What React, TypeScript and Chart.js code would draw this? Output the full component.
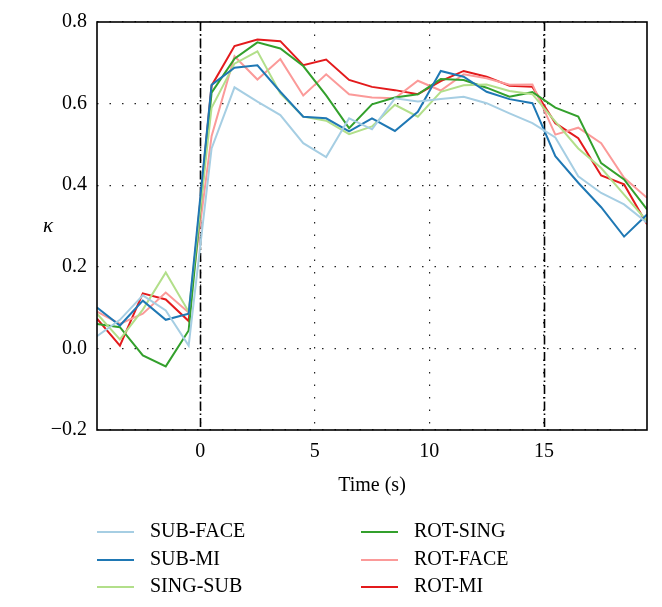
import React, { useEffect, useRef } from "react";
import { Chart, registerables } from "chart.js";

Chart.register(...registerables);

// ---- data ----
const times = [
  -4.5, -3.5, -2.5, -1.5, -0.5, 0.5, 1.5, 2.5, 3.5, 4.5, 5.5, 6.5, 7.5, 8.5,
  9.5, 10.5, 11.5, 12.5, 13.5, 14.5, 15.5, 16.5, 17.5, 18.5, 19.5,
];

const seriesNames = ["SUB-FACE", "SUB-MI", "SING-SUB", "ROT-SING", "ROT-FACE", "ROT-MI"];
const seriesColors = ["#a6cee3", "#1f78b4", "#b2df8a", "#33a02c", "#fb9a99", "#e31a1c"];

const subFace = [
  0.03, 0.07, 0.13, 0.093, 0.007, 0.49, 0.64, 0.605, 0.572, 0.503, 0.469, 0.564,
  0.537, 0.613, 0.605, 0.611, 0.617, 0.601, 0.576, 0.552, 0.517, 0.422, 0.381,
  0.353, 0.308,
];
const subMi = [
  0.1, 0.056, 0.117, 0.07, 0.085, 0.646, 0.688, 0.694, 0.629, 0.568, 0.564, 0.532,
  0.564, 0.533, 0.58, 0.68, 0.666, 0.629, 0.611, 0.601, 0.471, 0.406, 0.346,
  0.274, 0.328,
];
const singSub = [
  0.085, 0.022, 0.095, 0.186, 0.09, 0.59, 0.698, 0.728, 0.625, 0.568, 0.558, 0.525,
  0.544, 0.597, 0.568, 0.629, 0.645, 0.647, 0.631, 0.623, 0.556, 0.49, 0.442,
  0.377, 0.312,
];
const rotSing = [
  0.06, 0.052, -0.017, -0.044, 0.044, 0.627, 0.71, 0.75, 0.735, 0.692, 0.62, 0.54,
  0.598, 0.615, 0.623, 0.66, 0.658, 0.639, 0.617, 0.628, 0.59, 0.568, 0.454,
  0.414, 0.341,
];
const rotFace = [
  0.09, 0.06, 0.085, 0.137, 0.088, 0.52, 0.716, 0.659, 0.709, 0.62, 0.672, 0.623,
  0.615, 0.613, 0.656, 0.632, 0.672, 0.662, 0.646, 0.647, 0.524, 0.541, 0.503,
  0.418, 0.369,
];
const rotMi = [
  0.073, 0.007, 0.135, 0.12, 0.067, 0.644, 0.741, 0.757, 0.753, 0.694, 0.708, 0.658,
  0.641, 0.633, 0.623, 0.655, 0.68, 0.666, 0.644, 0.641, 0.552, 0.515, 0.424,
  0.402, 0.304,
];

const seriesValues = [subFace, subMi, singSub, rotSing, rotFace, rotMi];

const xTickValues = [0, 5, 10, 15];
const yTickValues = [-0.2, 0, 0.2, 0.4, 0.6, 0.8];
const stimulusMarkers = [0, 15];
const xMin = -4.5;
const xMax = 19.5;
const xTitle = "Time (s)";
const yTitle = "κ";

const FONT = '"Liberation Serif", "DejaVu Serif", serif';

const fmtY = (v: number) => {
  const r = Math.round(v * 10) / 10;
  if (r < 0) return "\u2212" + Math.abs(r).toFixed(1);
  return Math.abs(r).toFixed(1);
};

const decorPlugin = {
  id: "decor",
  beforeDatasetsDraw(chart: any) {
    const { ctx, chartArea, scales } = chart;
    ctx.save();
    ctx.strokeStyle = "#000";
    ctx.lineWidth = 1.6;
    ctx.setLineDash([9, 3, 1.5, 3]);
    for (const t of stimulusMarkers) {
      const x = Math.round(scales.x.getPixelForValue(t)) + 0.5;
      ctx.beginPath();
      ctx.moveTo(x, chartArea.top);
      ctx.lineTo(x, chartArea.bottom);
      ctx.stroke();
    }
    ctx.restore();
  },
  afterDraw(chart: any) {
    const { ctx, chartArea } = chart;
    ctx.save();
    // frame
    ctx.strokeStyle = "#000";
    ctx.lineWidth = 1.6;
    ctx.setLineDash([]);
    ctx.strokeRect(chartArea.left, chartArea.top, chartArea.right - chartArea.left, chartArea.bottom - chartArea.top);
    // y label (unrotated kappa)
    ctx.fillStyle = "#000";
    ctx.font = `italic 21px ${FONT}`;
    ctx.textAlign = "center";
    ctx.textBaseline = "middle";
    ctx.fillText(yTitle, 48, (chartArea.top + chartArea.bottom) / 2);
    // legend, two columns
    const colX = [chartArea.left, 361];
    const rowY = [532, 560, 587];
    ctx.font = `20px ${FONT}`;
    ctx.textAlign = "left";
    chart.data.datasets.forEach((ds: any, i: number) => {
      const c = Math.floor(i / 3);
      const r = i % 3;
      const x0 = colX[c];
      const y = rowY[r];
      ctx.strokeStyle = ds.borderColor;
      ctx.lineWidth = 2;
      ctx.beginPath();
      ctx.moveTo(x0, y);
      ctx.lineTo(x0 + 37, y);
      ctx.stroke();
      ctx.fillStyle = "#000";
      ctx.fillText(ds.label, x0 + 53, y);
    });
    ctx.restore();
  },
};

export default function App() {
  const canvasRef = useRef<HTMLCanvasElement | null>(null);

  useEffect(() => {
    document.body.style.margin = "0";
    const canvas = canvasRef.current;
    if (!canvas) return;
    const chart = new Chart(canvas, {
      type: "line",
      data: {
        datasets: seriesNames.map((name, i) => ({
          label: name,
          data: times.map((t, j) => ({ x: t, y: seriesValues[i][j] })),
          borderColor: seriesColors[i],
          backgroundColor: seriesColors[i],
          borderWidth: 2,
          pointRadius: 0,
          tension: 0,
          fill: false,
        })),
      },
      options: {
        animation: false,
        responsive: false,
        devicePixelRatio: 1,
        layout: { padding: { top: 20, right: 15, bottom: 109, left: 0 } },
        plugins: {
          legend: { display: false },
          tooltip: { enabled: false },
        },
        scales: {
          x: {
            type: "linear",
            min: xMin,
            max: xMax,
            afterBuildTicks: (axis: any) => {
              axis.ticks = xTickValues.map((v) => ({ value: v }));
            },
            ticks: {
              padding: 10,
              color: "#000",
              font: { family: FONT, size: 20 },
              callback: (v: any) => String(v),
            },
            grid: {
              color: "#222",
              lineWidth: 1.2,
              drawTicks: false,
            },
            border: { display: false, dash: [1.5, 11] },
            title: {
              display: true,
              text: xTitle,
              color: "#000",
              font: { family: FONT, size: 20 },
              padding: { top: 0, bottom: 0 },
            },
          },
          y: {
            type: "linear",
            min: -0.2,
            max: 0.8,
            afterBuildTicks: (axis: any) => {
              axis.ticks = yTickValues.map((v) => ({ value: v }));
            },
            afterFit: (axis: any) => {
              axis.width = 97;
            },
            ticks: {
              padding: 10,
              color: "#000",
              font: { family: FONT, size: 20 },
              callback: (v: any) => fmtY(Number(v)),
            },
            grid: {
              color: "#222",
              lineWidth: 1.2,
              drawTicks: false,
            },
            border: { display: false, dash: [1.5, 11] },
          },
        },
      } as any,
      plugins: [decorPlugin],
    });
    return () => chart.destroy();
  }, []);

  return (
    <div style={{ position: "absolute", left: 0, top: 0, width: 662, height: 607, background: "#fff" }}>
      <canvas ref={canvasRef} width={662} height={607} style={{ display: "block" }} />
    </div>
  );
}
